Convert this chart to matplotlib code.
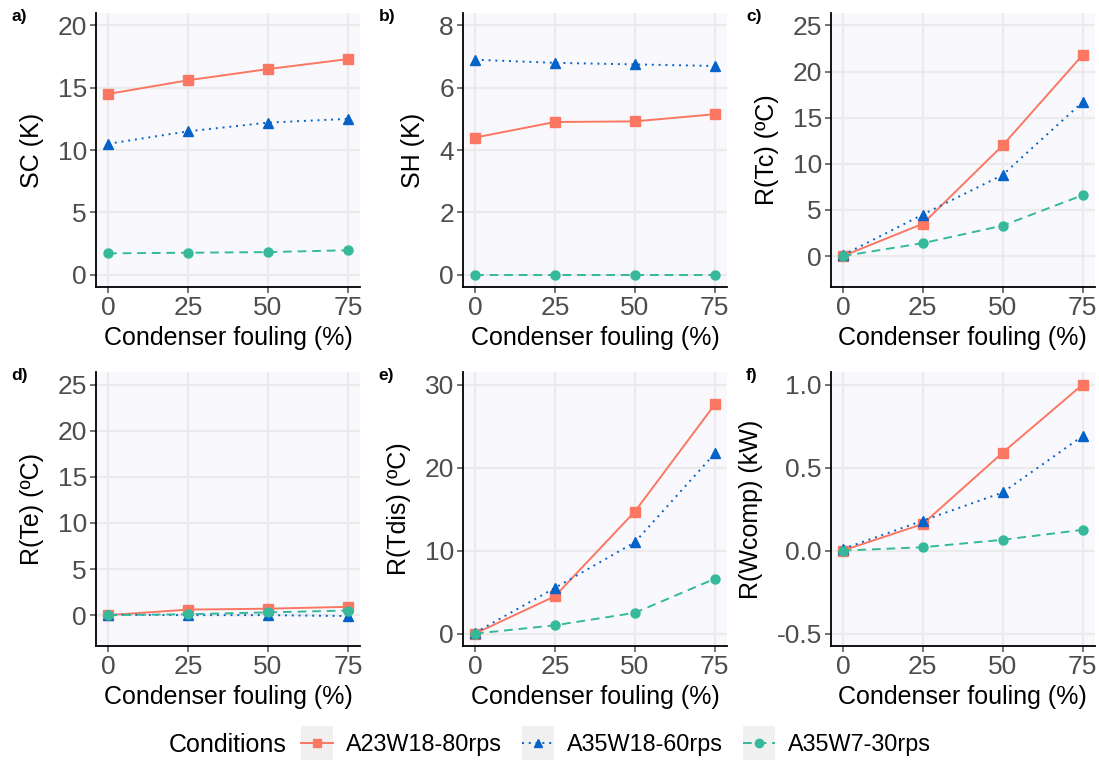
import numpy as np
import matplotlib.pyplot as plt
from matplotlib.lines import Line2D
from matplotlib.patches import Rectangle
from matplotlib.legend_handler import HandlerLine2D

plt.rcParams['font.family'] = ['Liberation Sans', 'DejaVu Sans']

# condenser fouling levels (%)
fouling = [0, 25, 50, 75]
conditions = ['A23W18-80rps', 'A35W18-60rps', 'A35W7-30rps']

# values, one list per condition
sc = [[14.5, 15.6, 16.5, 17.3], [10.5, 11.5, 12.2, 12.5], [1.7, 1.75, 1.8, 1.95]]
sh = [[4.4, 4.9, 4.92, 5.15], [6.9, 6.8, 6.75, 6.7], [0.0, 0.0, 0.0, 0.0]]
r_tc = [[0.0, 3.5, 12.0, 21.8], [0.1, 4.5, 8.8, 16.7], [0.0, 1.4, 3.3, 6.6]]
r_te = [[0.0, 0.6, 0.7, 0.9], [0.05, 0.0, 0.0, -0.1], [0.0, 0.1, 0.3, 0.5]]
r_tdis = [[0.0, 4.5, 14.7, 27.6], [0.1, 5.5, 11.0, 21.7], [0.0, 1.0, 2.5, 6.6]]
r_wcomp = [[0.0, 0.16, 0.59, 1.0], [0.01, 0.18, 0.35, 0.69], [0.0, 0.02, 0.065, 0.125]]

panels = [
    ('a)', 'SC (K)', sc, (0, 20), [0, 5, 10, 15, 20], None),
    ('b)', 'SH (K)', sh, (0, 8), [0, 2, 4, 6, 8], None),
    ('c)', 'R(Tc) (ºC)', r_tc, (-2, 25), [0, 5, 10, 15, 20, 25], None),
    ('d)', 'R(Te) (ºC)', r_te, (-2, 25), [0, 5, 10, 15, 20, 25], None),
    ('e)', 'R(Tdis) (ºC)', r_tdis, (0, 30), [0, 10, 20, 30], None),
    ('f)', 'R(Wcomp) (kW)', r_wcomp, (-0.5, 1.0), [-0.5, 0.0, 0.5, 1.0], '%.1f'),
]

colors = ['#FB7762', '#0562C8', '#35B99A']
markers = ['s', '^', 'o']
styles = ['-', (0, (1, 2.5)), (0, (4.5, 3))]


class KeyHandler(HandlerLine2D):
    # ggplot-like legend key: grey square behind the line
    def create_artists(self, legend, orig_handle, xdescent, ydescent,
                       width, height, fontsize, trans):
        arts = super().create_artists(legend, orig_handle, xdescent, ydescent,
                                      width, height, fontsize, trans)
        pad = 0.36 * fontsize
        bg = Rectangle((-xdescent, -ydescent - pad), width, height + 2 * pad,
                       facecolor='#F0F0F0', edgecolor='none', transform=trans)
        return [bg] + arts


fig = plt.figure(figsize=(10.99, 7.63), dpi=100)

lefts = [0.0874, 0.4213, 0.756]
bottoms = [0.6239, 0.1533]
w, h = 0.240, 0.359

for i, (tag, ylabel, data, lim, ticks, fmt) in enumerate(panels):
    row, col = divmod(i, 3)
    ax = fig.add_axes([lefts[col], bottoms[row], w, h])
    ax.set_facecolor('#F9F9FD')
    for k in range(3):
        ax.plot(fouling, data[k], color=colors[k], marker=markers[k],
                linestyle=styles[k], linewidth=1.4, markersize=6.5,
                label=conditions[k])
    pad = 0.05 * (lim[1] - lim[0])
    ax.set_ylim(lim[0] - pad, lim[1] + pad)
    ax.set_xlim(-3.75, 78.75)
    ax.set_yticks(ticks)
    ax.set_xticks(fouling)
    if fmt:
        ax.set_yticklabels([fmt % t for t in ticks])
    ax.grid(True, color='#EBEBEB', linewidth=1.6)
    ax.set_axisbelow(True)
    for s in ['top', 'right']:
        ax.spines[s].set_visible(False)
    for s in ['left', 'bottom']:
        ax.spines[s].set_linewidth(1.3)
        ax.spines[s].set_color('black')
    ax.tick_params(labelsize=19, colors='#4D4D4D', length=4, width=1.1, pad=2.5)
    ax.set_ylabel(ylabel, fontsize=18, labelpad=10)
    ax.set_xlabel('Condenser fouling (%)', fontsize=18, labelpad=4)
    fig.text(lefts[col] - 0.077, bottoms[row] + h - 0.014, tag,
             fontsize=12.5, fontweight='bold', va='bottom')

handles = [Line2D([], [], color=colors[k], marker=markers[k], linestyle=styles[k],
                  linewidth=1.4, markersize=6) for k in range(3)]
fig.legend(handles, conditions, loc='center', bbox_to_anchor=(0.5605, 0.024),
           ncol=3, frameon=False, fontsize=16.8, handlelength=1.37,
           columnspacing=0.86, handletextpad=0.56,
           handler_map={Line2D: KeyHandler()})
fig.text(0.2075, 0.024, 'Conditions', fontsize=18, ha='center', va='center')

fig.savefig('out.png', dpi=100)
